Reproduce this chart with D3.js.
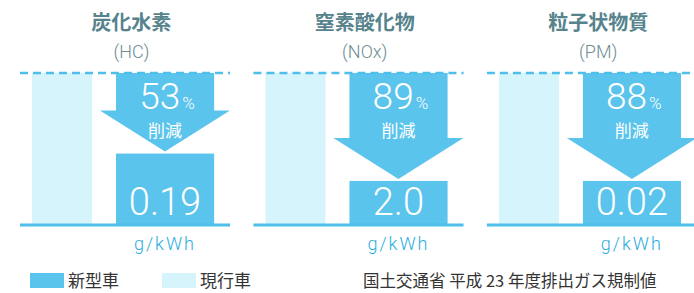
<!DOCTYPE html>
<html>
<head>
<meta charset="utf-8">
<script src="https://d3js.org/d3.v7.min.js"></script>
<style>
  body { margin: 0; background: #fff; }
  svg { display: block; }
  text { font-family: "Noto Sans CJK JP", "Noto Sans", sans-serif; }
  .num { font-family: Roboto, "Liberation Sans", sans-serif; font-weight: 300; }
</style>
</head>
<body>
<div id="chart"></div>
<script>
// chart data
var gases = ["炭化水素", "窒素酸化物", "粒子状物質"];
var codes = ["HC", "NOx", "PM"];
var newLabels = ["0.19", "2.0", "0.02"];
var reductions = [53, 89, 88];     // % 削減
var currentIndex = [100, 100, 100]; // 現行車 = 100
var unit = "g/kWh";
var legendNames = ["新型車", "現行車"];
var note = "国土交通省 平成 23 年度排出ガス規制値";

var W = 694, H = 293;
var cNew = "#5ac4ec", cOld = "#d5f4fc", cLine = "#4dbfe9";

var svg = d3.select("#chart").append("svg").attr("width", W).attr("height", H);

var x = d3.scaleBand().domain(gases).range([20, 697]).paddingInner(0.1);
var y = d3.scaleLinear().domain([0, 100]).range([225, 73]);
// position inside one panel (0..1 of band width)
var px = d3.scaleLinear().domain([0, 1]).range([0, x.bandwidth()]);
var minShown = 29; // smallest bar that still holds its label

gases.forEach(function(g, i) {
    var x0 = x(g);
    var gp = svg.append("g").attr("transform", "translate(" + x0 + ",0)");
    var cx = px(0.69);

    // title
    gp.append("text").attr("x", px(0.53)).attr("y", 30)
        .attr("text-anchor", "middle").attr("font-size", 20).attr("font-weight", 700)
        .attr("fill", "#56838c").text(g);
    gp.append("text").attr("class", "num").attr("x", px(0.53)).attr("y", 58)
        .attr("text-anchor", "middle").attr("font-size", 18)
        .attr("fill", "#6f8c93").text("(" + codes[i] + ")");

    // current bar
    gp.append("rect").attr("x", px(0.057)).attr("width", px(0.286))
        .attr("y", y(currentIndex[i])).attr("height", y(0) - y(currentIndex[i]))
        .attr("fill", cOld);

    // new bar
    var shown = Math.max(currentIndex[i] - reductions[i], minShown);
    var bl = px(0.457), bw = px(0.467);
    gp.append("rect").attr("x", bl).attr("width", bw)
        .attr("y", y(shown)).attr("height", y(0) - y(shown))
        .attr("fill", cNew);

    // arrow
    var tip = y(shown) - 2, headY = tip - 41, top = y(currentIndex[i]);
    var hl = cx - 65, hr = cx + 65;
    var p = d3.path();
    p.moveTo(bl, top); p.lineTo(bl + bw, top); p.lineTo(bl + bw, headY);
    p.lineTo(hr, headY); p.lineTo(cx, tip); p.lineTo(hl, headY);
    p.lineTo(bl, headY); p.closePath();
    gp.append("path").attr("d", p.toString()).attr("fill", cNew);

    // dashed top line and baseline
    gp.append("line").attr("x1", 0).attr("x2", px(1)).attr("y1", y(100)).attr("y2", y(100))
        .attr("stroke", cLine).attr("stroke-width", 2.5).attr("stroke-dasharray", "8,5");
    gp.append("line").attr("x1", 0).attr("x2", px(1)).attr("y1", y(0)).attr("y2", y(0))
        .attr("stroke", cLine).attr("stroke-width", 3);

    // reduction label
    var t = gp.append("text").attr("x", cx + 2).attr("y", 109)
        .attr("text-anchor", "middle").attr("fill", "#fff");
    t.append("tspan").attr("class", "num").attr("font-size", 37).text(reductions[i]);
    t.append("tspan").attr("class", "num").attr("font-size", 17).attr("dx", 2).text("%");
    gp.append("text").attr("x", cx).attr("y", 137)
        .attr("text-anchor", "middle").attr("font-size", 17).attr("fill", "#fff").text("削減");

    // value label
    gp.append("text").attr("class", "num").attr("x", cx).attr("y", 215)
        .attr("text-anchor", "middle").attr("font-size", 38).attr("fill", "#fff")
        .text(newLabels[i]);
    gp.append("text").attr("class", "num").attr("x", cx).attr("y", 250)
        .attr("text-anchor", "middle").attr("font-size", 18).attr("font-weight", 400)
        .attr("letter-spacing", 2).attr("fill", "#2badde").text(unit);
});

// legend
var lg = svg.append("g");
[[30, cNew], [162, cOld]].forEach(function(d, i) {
    lg.append("rect").attr("x", d[0]).attr("y", 273).attr("width", 34).attr("height", 15).attr("fill", d[1]);
    lg.append("text").attr("x", d[0] + 38).attr("y", 287).attr("font-size", 17)
        .attr("fill", "#333").text(legendNames[i]);
});
svg.append("text").attr("x", 363).attr("y", 287).attr("font-size", 16.5)
    .attr("fill", "#333").text(note);
</script>
</body>
</html>
